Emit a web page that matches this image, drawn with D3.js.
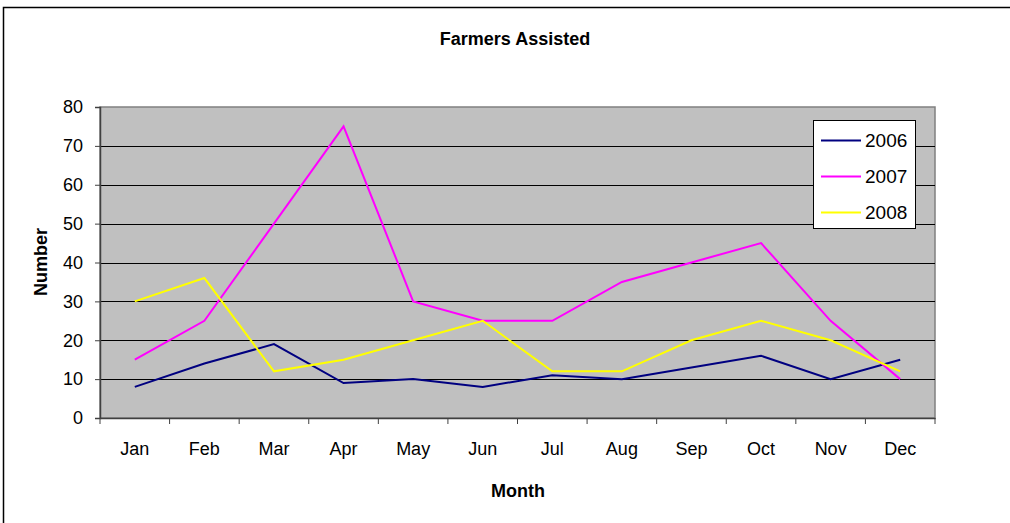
<!DOCTYPE html>
<html>
<head>
<meta charset="utf-8">
<script src="https://cdn.jsdelivr.net/npm/d3@7"></script>
<style>
  body { margin: 0; background: #fff; overflow: hidden; }
  svg { display: block; }
  text { font-family: "Liberation Sans", Arial, sans-serif; fill: #000; }
</style>
</head>
<body>
<svg id="chart"></svg>
<script>
var months = ['Jan','Feb','Mar','Apr','May','Jun','Jul','Aug','Sep','Oct','Nov','Dec'];
var years = ['2006','2007','2008'];
var v2006 = [8,14,19,9,10,8,11,10,13,16,10,15];
var v2007 = [15,25,50,75,30,25,25,35,40,45,25,10];
var v2008 = [30,36,12,15,20,25,12,12,20,25,20,12];
var yTicks = [0,10,20,30,40,50,60,70,80];
var colors = ['#000080','#ff00ff','#ffff00'];

var W = 1010, H = 523;
var pLeft = 100, pRight = 935, pTop = 107, pBottom = 418;

var svg = d3.select('#chart')
    .attr('width', W)
    .attr('height', H);

// outer frame, only the left and top edges are inside the picture
svg.append('path')
    .attr('d', 'M3.5,' + H + 'V7.5H' + W)
    .attr('fill', 'none')
    .attr('stroke', '#000')
    .attr('stroke-width', 1.5);

var x = d3.scaleBand().domain(months).range([pLeft, pRight]);
var y = d3.scaleLinear().domain([0, 80]).range([pBottom, pTop]);

// plot background
svg.append('rect')
    .attr('x', pLeft).attr('y', pTop)
    .attr('width', pRight - pLeft).attr('height', pBottom - pTop)
    .attr('fill', '#c0c0c0')
    .attr('stroke', '#808080')
    .attr('stroke-width', 1.5);

// gridlines
svg.append('g')
    .selectAll('line')
    .data(yTicks.filter(function(d){ return d > 0 && d < 80; }))
    .enter()
    .append('line')
    .attr('x1', pLeft).attr('x2', pRight)
    .attr('y1', function(d){ return Math.round(y(d)) + 0.5; })
    .attr('y2', function(d){ return Math.round(y(d)) + 0.5; })
    .attr('stroke', '#000')
    .attr('stroke-width', 1);

// y axis
var yAxis = svg.append('g')
    .attr('transform', 'translate(' + pLeft + ',0)')
    .call(d3.axisLeft(y).tickValues(yTicks).tickSize(5).tickPadding(12));
yAxis.select('.domain').attr('stroke', '#404040').attr('stroke-width', 1.5);
yAxis.selectAll('.tick line').attr('stroke', '#404040');
yAxis.selectAll('text')
    .attr('font-size', 18)
    .attr('font-family', '"Liberation Sans", Arial, sans-serif')
    .attr('fill', '#000');

// x axis
var xAxis = svg.append('g')
    .attr('transform', 'translate(0,' + pBottom + ')')
    .call(d3.axisBottom(x).tickSize(0).tickPadding(24));
xAxis.select('.domain').attr('stroke', '#404040').attr('stroke-width', 1.5);
xAxis.selectAll('text')
    .attr('font-size', 18)
    .attr('font-family', '"Liberation Sans", Arial, sans-serif')
    .attr('fill', '#000');

// x tick marks on category boundaries
svg.append('g')
    .selectAll('line')
    .data(months.concat(['end']))
    .enter()
    .append('line')
    .attr('x1', function(d, i){ return i < months.length ? x(d) : pRight; })
    .attr('x2', function(d, i){ return i < months.length ? x(d) : pRight; })
    .attr('y1', pBottom).attr('y2', pBottom + 6)
    .attr('stroke', '#404040')
    .attr('stroke-width', 1);

// lines
var series = [v2006, v2007, v2008];
var line = d3.line()
    .x(function(d, i){ return x(months[i]) + x.bandwidth() / 2; })
    .y(function(d){ return y(d); });

svg.append('g')
    .selectAll('path')
    .data(series)
    .enter()
    .append('path')
    .attr('d', line)
    .attr('fill', 'none')
    .attr('stroke', function(d, i){ return colors[i]; })
    .attr('stroke-width', 2);

// titles
svg.append('text')
    .attr('x', 515).attr('y', 45)
    .attr('text-anchor', 'middle')
    .attr('font-size', 18)
    .attr('font-weight', 'bold')
    .text('Farmers Assisted');

svg.append('text')
    .attr('x', 518).attr('y', 497)
    .attr('text-anchor', 'middle')
    .attr('font-size', 18)
    .attr('font-weight', 'bold')
    .text('Month');

svg.append('text')
    .attr('transform', 'translate(47,262) rotate(-90)')
    .attr('text-anchor', 'middle')
    .attr('font-size', 18)
    .attr('font-weight', 'bold')
    .text('Number');

// legend
var lg = svg.append('g');
lg.append('rect')
    .attr('x', 813.5).attr('y', 120.5)
    .attr('width', 102).attr('height', 108)
    .attr('fill', '#fff')
    .attr('stroke', '#000')
    .attr('stroke-width', 1);

var items = lg.selectAll('g.item')
    .data(years)
    .enter()
    .append('g')
    .attr('transform', function(d, i){ return 'translate(0,' + (140.5 + i * 36) + ')'; });
items.append('line')
    .attr('x1', 821).attr('x2', 861)
    .attr('stroke', function(d, i){ return colors[i]; })
    .attr('stroke-width', 2);
items.append('text')
    .attr('x', 865)
    .attr('dy', '0.35em')
    .attr('font-size', 19)
    .text(function(d){ return d; });
</script>
</body>
</html>
